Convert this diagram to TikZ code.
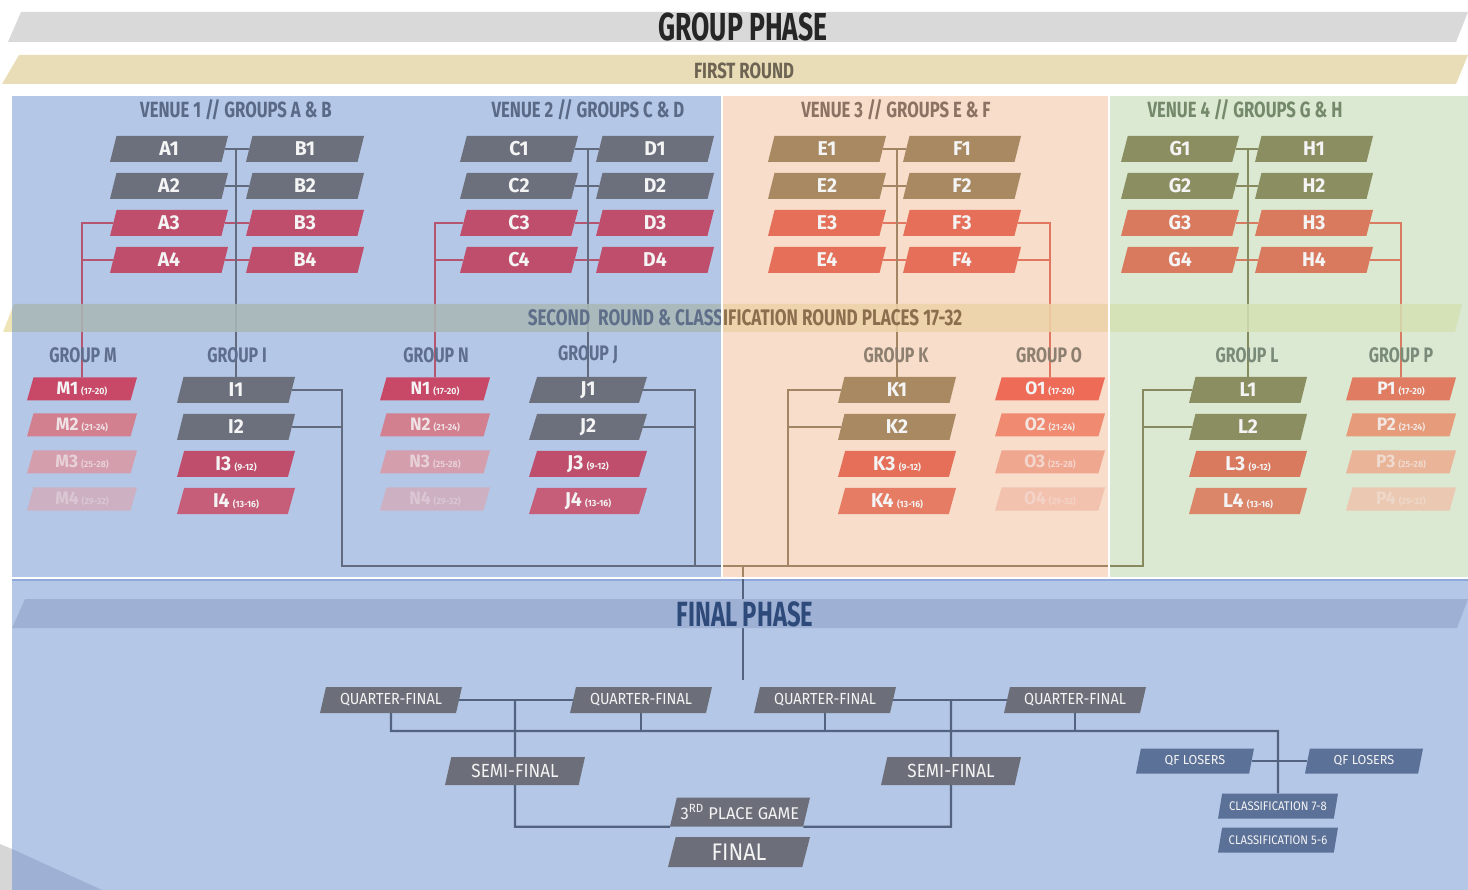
\documentclass[tikz,border=0pt]{standalone}
\usepackage{fontspec}
\setmainfont{Fira Sans}[FakeStretch=0.68]
\newfontfamily\hdfont{Fira Sans}[FakeStretch=0.76]
\newfontfamily\fpfont{Fira Sans}[FakeStretch=0.9]
\newfontfamily\bxfont{Fira Sans}[FakeStretch=0.97]
\usetikzlibrary{shapes.geometric}
\pgfdeclarelayer{panels}
\pgfdeclarelayer{links}
\pgfdeclarelayer{bands}
\pgfdeclarelayer{gaps}
\pgfsetlayers{panels,links,bands,main,gaps}

% panels and bands
\definecolor{panB}{HTML}{B4C7E7}
\definecolor{panP}{HTML}{F8DDCB}
\definecolor{panG}{HTML}{DBE9D2}
\definecolor{gpbar}{HTML}{D9D9D9}
\definecolor{gptext}{HTML}{262626}
\definecolor{frband}{HTML}{E8DDB6}
\definecolor{frtext}{HTML}{6E6453}
\definecolor{bandY}{HTML}{EFE4B6}
\definecolor{bandB}{HTML}{A9B8B5}
\definecolor{bandP}{HTML}{EDD3A8}
\definecolor{bandG}{HTML}{D5E0B3}
\definecolor{r2B}{HTML}{5F6F8A}
\definecolor{r2P}{HTML}{8B6E4E}
% headers and group labels
\definecolor{hdB}{HTML}{5A6985}
\definecolor{hdP}{HTML}{8C7262}
\definecolor{hdG}{HTML}{74886A}
\definecolor{grpB}{HTML}{5E6E8C}
\definecolor{grpP}{HTML}{8E8070}
\definecolor{grpG}{HTML}{7A8B7A}
% boxes
\definecolor{boxtxt}{HTML}{F4F4F4}
\definecolor{boxB}{HTML}{6C707D}
\definecolor{redB}{HTML}{BF4E6C}
\definecolor{redBb}{HTML}{C65E79}
\definecolor{boxP}{HTML}{A98962}
\definecolor{redP}{HTML}{E56F58}
\definecolor{redPb}{HTML}{E67C63}
\definecolor{boxG}{HTML}{8B8E60}
\definecolor{redG}{HTML}{D97A5F}
\definecolor{redGb}{HTML}{DB8569}
\definecolor{mB1}{HTML}{C84868}
\definecolor{mB2}{HTML}{D27F8F}
\definecolor{mB3}{HTML}{D49EAD}
\definecolor{mB4}{HTML}{CDB0C2}
\definecolor{oP1}{HTML}{EE6B58}
\definecolor{oP2}{HTML}{F08B72}
\definecolor{oP3}{HTML}{F0A790}
\definecolor{oP4}{HTML}{F3C2AF}
\definecolor{pG1}{HTML}{E07C62}
\definecolor{pG2}{HTML}{E69C7B}
\definecolor{pG3}{HTML}{E9B498}
\definecolor{pG4}{HTML}{EBC8B1}
% connector lines
\definecolor{lnB}{HTML}{626B7E}
\definecolor{lnRB}{HTML}{B65570}
\definecolor{lnP}{HTML}{A38463}
\definecolor{lnRP}{HTML}{E27761}
\definecolor{lnG}{HTML}{868A5E}
\definecolor{lnRG}{HTML}{D87B60}
% final phase
\definecolor{fpbar}{HTML}{9EB1D4}
\definecolor{fpborder}{HTML}{8EA9DA}
\definecolor{fptext}{HTML}{2E4A7A}
\definecolor{fpbox}{HTML}{6C6F79}
\definecolor{fpline}{HTML}{52627F}
\definecolor{slate}{HTML}{5B7198}
\definecolor{cornergrey}{HTML}{D6D6D6}

\newcommand\fsz[1]{\fontsize{#1}{#1}\selectfont}
\newcommand\rngx[1]{\,{\fsz{9}(#1)}}

\begin{document}
\begin{tikzpicture}[x=1pt,y=-1pt,
  pbox/.style={trapezium, trapezium left angle=65, trapezium right angle=115,
    trapezium stretches body, minimum width=118pt, minimum height=26pt,
    inner sep=0pt, text=boxtxt, font=\bxfont\fsz{20}\bfseries},
  mbox/.style={pbox, minimum width=110pt, minimum height=23pt, font=\bxfont\fsz{18}\bfseries},
  fbox/.style={pbox, fill=fpbox, minimum width=142pt, font=\fpfont\fsz{16}\mdseries},
  lbox/.style={pbox, fill=slate, minimum height=25pt, font=\bxfont\fsz{13}\mdseries},
  hd/.style={font=\hdfont\fsz{22}\bfseries, inner sep=0pt},
  grp/.style={font=\hdfont\fsz{21}\bfseries, inner sep=0pt},
  lnk/.style={line width=1.6pt, line join=miter},
  flk/.style={line width=2.2pt, draw=fpline, line join=miter},
  r2font/.style={font=\hdfont\fsz{22.5}\bfseries, inner sep=0pt},
  bandshape/.style={fill opacity=.86},
]
\useasboundingbox (0,0) rectangle (1468,890);

% ---------- titles ----------
\fill[gpbar] (21,12) -- (1468,12) -- (1456,42) -- (8,42) -- cycle;
\node[font=\fsz{39}\bfseries, text=gptext, inner sep=0pt] (gpt) at (743,27) {GROUP PHASE};
\fill[frband] (19,55) -- (1468,55) -- (1456,84) -- (2,84) -- cycle;
\node[font=\hdfont\fsz{22}\bfseries, text=frtext, inner sep=0pt] (frt) at (744,71) {FIRST ROUND};

% ---------- panels ----------
\begin{pgfonlayer}{panels}
  \fill[panB] (12,96) rectangle (721,577);
  \fill[panP] (723,96) rectangle (1108,577);
  \fill[panG] (1110,96) rectangle (1468,577);
  \fill[panB] (12,580) rectangle (1468,890);
  \draw[line width=1.5pt, fpborder] (12,580) -- (1468,580);
  \fill[cornergrey] (0,844) -- (12,849) -- (12,890) -- (0,890) -- cycle;
  \fill[fpbar] (12,849) -- (102,890) -- (12,890) -- cycle;
\end{pgfonlayer}

% ---------- bands (laid over the connectors, slightly see-through) ----------
\begin{pgfonlayer}{bands}
  \begin{scope}
    \clip (0,300) rectangle (12,340);
    \fill[bandY] (14,304) -- (1462,304) -- (1455,332) -- (3,332) -- cycle;
  \end{scope}
  \begin{scope}
    \clip (12,300) rectangle (721,340);
    \fill[bandB, bandshape] (14,304) -- (1462,304) -- (1455,332) -- (3,332) -- cycle;
  \end{scope}
  \begin{scope}
    \clip (723,300) rectangle (1108,340);
    \fill[bandP, bandshape] (14,304) -- (1462,304) -- (1455,332) -- (3,332) -- cycle;
  \end{scope}
  \begin{scope}
    \clip (1110,300) rectangle (1468,340);
    \fill[bandG, bandshape] (14,304) -- (1462,304) -- (1455,332) -- (3,332) -- cycle;
  \end{scope}
  \fill[fpbar] (25,599) -- (1468,599) -- (1457,628) -- (12,628) -- cycle;
\end{pgfonlayer}

\begin{scope}
  \clip (0,300) rectangle (722,340);
  \node[r2font, text=r2B] (r2a) at (745,318) {SECOND\ \ ROUND \& CLASSIFICATION ROUND PLACES 17-32};
\end{scope}
\begin{scope}
  \clip (722,300) rectangle (1468,340);
  \node[r2font, text=r2P] (r2b) at (745,318) {SECOND\ \ ROUND \& CLASSIFICATION ROUND PLACES 17-32};
\end{scope}
\node[font=\fsz{35}\bfseries, text=fptext, inner sep=0pt] (fpt) at (745,614) {FINAL PHASE};

% ---------- venue headers ----------
\node[hd, text=hdB] (v1) at (236,110) {VENUE 1 // GROUPS A \& B};
\node[hd, text=hdB] (v2) at (588,110) {VENUE 2 // GROUPS C \& D};
\node[hd, text=hdP] (v3) at (896,110) {VENUE 3 // GROUPS E \& F};
\node[hd, text=hdG] (v4) at (1245,110) {VENUE 4 // GROUPS G \& H};

% ---------- first round groups ----------
\foreach \i/\y in {1/149,2/186}{
  \node[pbox, fill=boxB] (A\i) at (169,\y) {A\i};
  \node[pbox, fill=boxB] (B\i) at (305,\y) {B\i};
  \node[pbox, fill=boxB] (C\i) at (519,\y) {C\i};
  \node[pbox, fill=boxB] (D\i) at (655,\y) {D\i};
  \node[pbox, fill=boxP] (E\i) at (827,\y) {E\i};
  \node[pbox, fill=boxP] (F\i) at (962,\y) {F\i};
  \node[pbox, fill=boxG] (G\i) at (1180,\y) {G\i};
  \node[pbox, fill=boxG] (H\i) at (1314,\y) {H\i};
}
\foreach \i/\y in {3/223,4/260}{
  \node[pbox, fill=redB] (A\i) at (169,\y) {A\i};
  \node[pbox, fill=redB] (B\i) at (305,\y) {B\i};
  \node[pbox, fill=redB] (C\i) at (519,\y) {C\i};
  \node[pbox, fill=redB] (D\i) at (655,\y) {D\i};
  \node[pbox, fill=redP] (E\i) at (827,\y) {E\i};
  \node[pbox, fill=redP] (F\i) at (962,\y) {F\i};
  \node[pbox, fill=redG] (G\i) at (1180,\y) {G\i};
  \node[pbox, fill=redG] (H\i) at (1314,\y) {H\i};
}

% ---------- second round group labels ----------
\node[grp, text=grpB] (gM) at (83,355) {GROUP M};
\node[grp, text=grpB] (gI) at (237,355) {GROUP I};
\node[grp, text=grpB] (gN) at (436,355) {GROUP N};
\node[grp, text=grpB] (gJ) at (588,355) {GROUP J};
\node[grp, text=grpP] (gK) at (896,355) {GROUP K};
\node[grp, text=grpP] (gO) at (1049,355) {GROUP O};
\node[grp, text=grpG] (gL) at (1247,355) {GROUP L};
\node[grp, text=grpG] (gP) at (1401,355) {GROUP P};

% ---------- classification groups (places 17-32) ----------
\node[mbox, fill=mB1] (M1) at (82,389) {M1\rngx{17-20}};
\node[mbox, fill=mB2, text opacity=.85] (M2) at (82,425) {M2\rngx{21-24}};
\node[mbox, fill=mB3, text opacity=.6] (M3) at (82,462) {M3\rngx{25-28}};
\node[mbox, fill=mB4, text opacity=.35] (M4) at (82,499) {M4\rngx{29-32}};
\node[mbox, fill=mB1] (N1) at (435,389) {N1\rngx{17-20}};
\node[mbox, fill=mB2, text opacity=.85] (N2) at (435,425) {N2\rngx{21-24}};
\node[mbox, fill=mB3, text opacity=.6] (N3) at (435,462) {N3\rngx{25-28}};
\node[mbox, fill=mB4, text opacity=.35] (N4) at (435,499) {N4\rngx{29-32}};
\node[mbox, fill=oP1] (O1) at (1050,389) {O1\rngx{17-20}};
\node[mbox, fill=oP2, text opacity=.85] (O2) at (1050,425) {O2\rngx{21-24}};
\node[mbox, fill=oP3, text opacity=.6] (O3) at (1050,462) {O3\rngx{25-28}};
\node[mbox, fill=oP4, text opacity=.35] (O4) at (1050,499) {O4\rngx{29-32}};
\node[mbox, fill=pG1] (P1) at (1401,389) {P1\rngx{17-20}};
\node[mbox, fill=pG2, text opacity=.85] (P2) at (1401,425) {P2\rngx{21-24}};
\node[mbox, fill=pG3, text opacity=.6] (P3) at (1401,462) {P3\rngx{25-28}};
\node[mbox, fill=pG4, text opacity=.35] (P4) at (1401,499) {P4\rngx{29-32}};

% ---------- second round groups (places 1-16) ----------
\node[pbox, fill=boxB] (I1) at (236,390) {I1};
\node[pbox, fill=boxB] (I2) at (236,427) {I2};
\node[pbox, fill=redB] (I3) at (236,464) {I3\rngx{9-12}};
\node[pbox, fill=redBb] (I4) at (236,501) {I4\rngx{13-16}};
\node[pbox, fill=boxB] (J1) at (588,390) {J1};
\node[pbox, fill=boxB] (J2) at (588,427) {J2};
\node[pbox, fill=redB] (J3) at (588,464) {J3\rngx{9-12}};
\node[pbox, fill=redBb] (J4) at (588,501) {J4\rngx{13-16}};
\node[pbox, fill=boxP] (K1) at (897,390) {K1};
\node[pbox, fill=boxP] (K2) at (897,427) {K2};
\node[pbox, fill=redP] (K3) at (897,464) {K3\rngx{9-12}};
\node[pbox, fill=redPb] (K4) at (897,501) {K4\rngx{13-16}};
\node[pbox, fill=boxG] (L1) at (1248,390) {L1};
\node[pbox, fill=boxG] (L2) at (1248,427) {L2};
\node[pbox, fill=redG] (L3) at (1248,464) {L3\rngx{9-12}};
\node[pbox, fill=redGb] (L4) at (1248,501) {L4\rngx{13-16}};

% ---------- final phase ----------
\node[fbox] (qf1) at (391,700) {QUARTER-FINAL};
\node[fbox] (qf2) at (641,700) {QUARTER-FINAL};
\node[fbox] (qf3) at (825,700) {QUARTER-FINAL};
\node[fbox] (qf4) at (1075,700) {QUARTER-FINAL};
\node[fbox, minimum width=140pt, minimum height=28pt, font=\fpfont\fsz{19}\mdseries] (sf1) at (515,771) {SEMI-FINAL};
\node[fbox, minimum width=140pt, minimum height=28pt, font=\fpfont\fsz{19}\mdseries] (sf2) at (951,771) {SEMI-FINAL};
\node[fbox, minimum width=140pt, minimum height=29pt, font=\bxfont\fsz{17}\mdseries] (third) at (740,812) {3\textsuperscript{RD} PLACE GAME};
\node[fbox, minimum width=142pt, minimum height=30pt, font=\fpfont\fsz{24}\mdseries] (final) at (739,852) {FINAL};
\node[lbox] (qfl1) at (1195,761) {QF LOSERS};
\node[lbox] (qfl2) at (1364,761) {QF LOSERS};
\node[lbox, minimum width=120pt, font=\fpfont\fsz{12.5}\mdseries] (c78) at (1278,806) {CLASSIFICATION 7-8};
\node[lbox, minimum width=120pt, font=\fpfont\fsz{12.5}\mdseries] (c56) at (1278,840) {CLASSIFICATION 5-6};

% ---------- connectors ----------
\coordinate (iX) at (342,566);
\coordinate (jX) at (695,566);
\coordinate (kX) at (788,566);
\coordinate (lX) at (1143,566);
\coordinate (hub) at (743,566);
\coordinate (hubB) at (743,578);
\coordinate (fpIn) at (743,680);
\coordinate (e1) at (722,566);
\coordinate (e2) at (1109,566);
\coordinate (qrow) at (0,731);

\begin{pgfonlayer}{links}
  % venue 1
  \draw[lnk, lnB] (A1.east) -- (B1.west);
  \draw[lnk, lnB] (A2.east) -- (B2.west);
  \draw[lnk, lnRB] (A3.east) -- (B3.west);
  \draw[lnk, lnRB] (A4.east) -- (B4.west);
  \draw[lnk, lnB] (A1.east -| I1) -- (I1);
  \draw[lnk, lnRB] (A3.west) -- (A3.west -| M1) -- (M1);
  \draw[lnk, lnRB] (A4.west) -- (A4.west -| M1);
  % venue 2
  \draw[lnk, lnB] (C1.east) -- (D1.west);
  \draw[lnk, lnB] (C2.east) -- (D2.west);
  \draw[lnk, lnRB] (C3.east) -- (D3.west);
  \draw[lnk, lnRB] (C4.east) -- (D4.west);
  \draw[lnk, lnB] (C1.east -| J1) -- (J1);
  \draw[lnk, lnRB] (C3.west) -- (C3.west -| N1) -- (N1);
  \draw[lnk, lnRB] (C4.west) -- (C4.west -| N1);
  % venue 3
  \draw[lnk, lnP] (E1.east) -- (F1.west);
  \draw[lnk, lnP] (E2.east) -- (F2.west);
  \draw[lnk, lnRP] (E3.east) -- (F3.west);
  \draw[lnk, lnRP] (E4.east) -- (F4.west);
  \draw[lnk, lnP] (E1.east -| K1) -- (K1);
  \draw[lnk, lnRP] (F3.east) -- (F3.east -| O1) -- (O1);
  \draw[lnk, lnRP] (F4.east) -- (F4.east -| O1);
  % venue 4
  \draw[lnk, lnG] (G1.east) -- (H1.west);
  \draw[lnk, lnG] (G2.east) -- (H2.west);
  \draw[lnk, lnRG] (G3.east) -- (H3.west);
  \draw[lnk, lnRG] (G4.east) -- (H4.west);
  \draw[lnk, lnG] (G1.east -| L1) -- (L1);
  \draw[lnk, lnRG] (H3.east) -- (H3.east -| P1) -- (P1);
  \draw[lnk, lnRG] (H4.east) -- (H4.east -| P1);
  % second round to final phase
  \draw[lnk, lnB] (I1.east) -- (I1.east -| iX) -- (iX) -- (e1);
  \draw[lnk, lnB] (I2.east) -- (I2.east -| iX);
  \draw[lnk, lnB] (J1.east) -- (J1.east -| jX) -- (jX);
  \draw[lnk, lnB] (J2.east) -- (J2.east -| jX);
  \draw[lnk, lnP] (e1) -- (e2);
  \draw[lnk, lnP] (K1.west) -- (K1.west -| kX) -- (kX);
  \draw[lnk, lnP] (K2.west) -- (K2.west -| kX);
  \draw[lnk, lnP] (hub) -- (hubB);
  \draw[lnk, lnG] (e2) -- (lX) -- (L1.west -| lX) -- (L1.west);
  \draw[lnk, lnG] (L2.west -| lX) -- (L2.west);
  \draw[flk] (hubB) -- (fpIn);
  % final phase
  \draw[flk] (qf1.east) -- (qf2.west);
  \draw[flk] (qf3.east) -- (qf4.west);
  \draw[flk] (qf1.east -| sf1) -- (sf1) -- (sf1 |- third.bottom left corner) -- (third.bottom left corner);
  \draw[flk] (qf3.east -| sf2) -- (sf2) -- (sf2 |- third.bottom right corner) -- (third.bottom right corner);
  \draw[flk] (qf1.south) -- (qf1.south |- qrow) -- (c78 |- qrow) -- (c78.north);
  \draw[flk] (qf2.south) -- (qf2.south |- qrow);
  \draw[flk] (qf3.south) -- (qf3.south |- qrow);
  \draw[flk] (qf4.south) -- (qf4.south |- qrow);
  \draw[flk] (qfl1.east) -- (qfl2.west);
\end{pgfonlayer}

% ---------- white gaps between panels ----------
\begin{pgfonlayer}{gaps}
  \fill[white] (721,96) rectangle (723,577.5);
  \fill[white] (1108,96) rectangle (1110,577.5);
  \fill[white] (12,577) rectangle (1468,579.2);
\end{pgfonlayer}
\end{tikzpicture}
\end{document}
